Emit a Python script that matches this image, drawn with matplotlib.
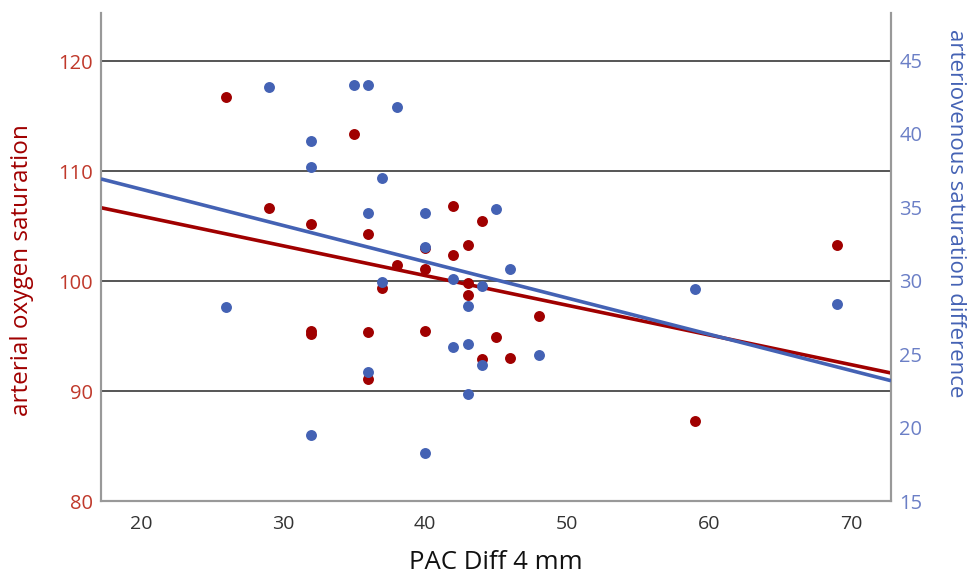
import numpy as np
import matplotlib
matplotlib.use("Agg")
import matplotlib.pyplot as plt

# PAC Diff 4 mm vs arterial oxygen saturation (left axis)
sao2_x = [26, 29, 32, 32, 32, 35, 36, 36, 36, 37, 38, 40, 40, 40, 42, 42,
          43, 43, 43, 44, 44, 45, 46, 48, 59, 69]
sao2_y = [116.8, 106.7, 105.2, 95.5, 95.2, 113.4, 104.3, 95.4, 91.1, 99.4,
          101.5, 103.05, 101.1, 95.5, 106.8, 102.4, 103.3, 99.85, 98.7,
          105.45, 92.9, 94.9, 93.0, 96.8, 87.3, 103.3]

# PAC Diff 4 mm vs arteriovenous saturation difference (right axis)
avd_x = [26, 29, 32, 32, 32, 35, 36, 36, 36, 37, 37, 38, 40, 40, 40, 42, 42,
         43, 43, 43, 44, 44, 45, 46, 48, 59, 69]
avd_y = [28.2, 43.2, 39.5, 37.7, 19.5, 43.3, 43.3, 34.6, 23.8, 37.0, 29.9,
         41.8, 34.6, 32.3, 18.3, 30.1, 25.5, 28.3, 25.7, 22.3, 29.6, 24.25,
         34.9, 30.8, 24.9, 29.4, 28.4]

x_ticks = [20, 30, 40, 50, 60, 70]
left_ticks = [80, 90, 100, 110, 120]
right_ticks = [15, 20, 25, 30, 35, 40, 45]

red = "#a00000"
blue = "#4462b4"

fig = plt.figure(figsize=(9.72, 5.76), dpi=100)
ax = fig.add_axes([0.1039, 0.1302, 0.8128, 0.8472])
ax2 = ax.twinx()

xlim = (17.18, 72.82)
ax.set_xlim(*xlim)
ax.set_ylim(80, 124.4)
ax2.set_ylim(15, 48.2)

for v in left_ticks[1:]:
    ax.axhline(v, color="#555555", lw=1.4, zorder=0)

ax.scatter(sao2_x, sao2_y, s=62, color=red, zorder=3, linewidths=0)
ax2.scatter(avd_x, avd_y, s=62, color=blue, zorder=3, linewidths=0)

# linear fit lines
xx = np.array(xlim)
k1, b1 = np.polyfit(sao2_x, sao2_y, 1)
k2, b2 = np.polyfit(avd_x, avd_y, 1)
ax.plot(xx, k1 * xx + b1, color=red, lw=2.6, zorder=4, solid_capstyle="butt")
ax2.plot(xx, k2 * xx + b2, color=blue, lw=2.6, zorder=4, solid_capstyle="butt")

ax.set_xticks(x_ticks)
ax.set_yticks(left_ticks)
ax2.set_yticks(right_ticks)

tick_font = ["Open Sans", "DejaVu Sans"]
ax.tick_params(axis="x", length=0, pad=10, labelsize=14, colors="#333333")
ax.tick_params(axis="y", length=0, pad=6, labelsize=14.5, labelcolor="#c0392b")
ax2.tick_params(axis="y", length=0, pad=6, labelsize=14.5, labelcolor="#6b7fc6")
for lab in ax.get_xticklabels() + ax.get_yticklabels() + ax2.get_yticklabels():
    lab.set_family(tick_font)

for a in (ax, ax2):
    a.spines["top"].set_visible(False)
    for s in ("left", "right", "bottom"):
        a.spines[s].set_color("#999999")
        a.spines[s].set_linewidth(1.5)

ax.set_xlabel("PAC Diff 4 mm", fontsize=18.5, family=["Open Sans", "DejaVu Sans"],
              color="#111111", labelpad=12)
ax.set_ylabel("arterial oxygen saturation", fontsize=17.5,
              family=["Open Sans", "DejaVu Sans"], color=red,
              va="center", ha="center")
ax.yaxis.set_label_coords(-0.100, 0.473)
ax2.set_ylabel("arteriovenous saturation difference", fontsize=16,
               family=["Open Sans", "DejaVu Sans"], color=blue,
               rotation=270, va="center", ha="center")
ax2.yaxis.set_label_coords(1.081, 0.59)

fig.savefig("out.png", dpi=100)
